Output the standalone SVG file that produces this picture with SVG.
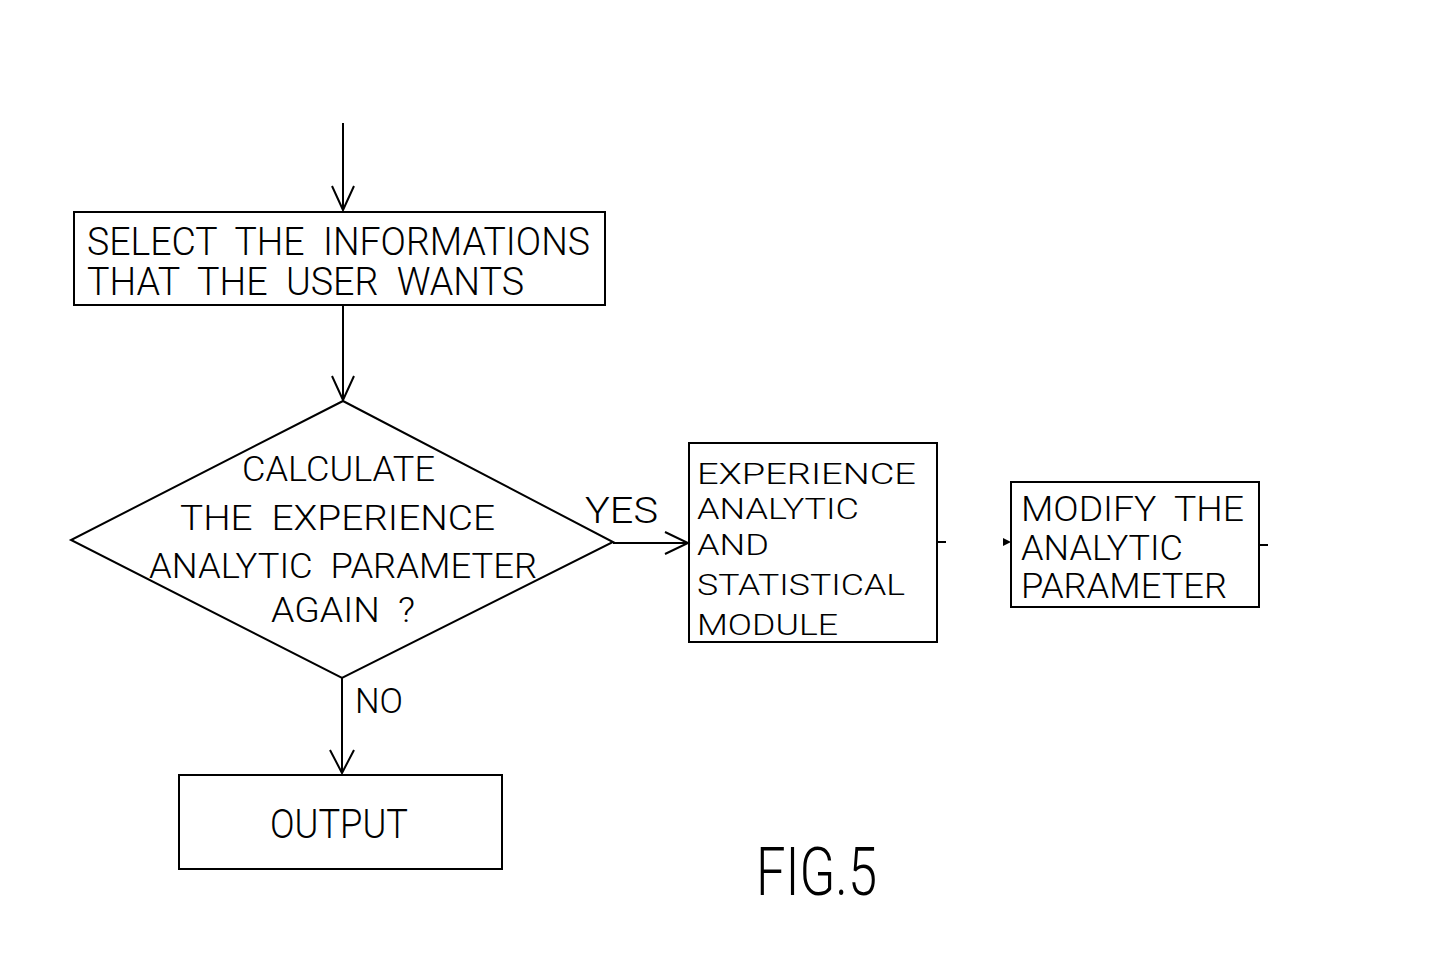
<svg xmlns="http://www.w3.org/2000/svg" width="1440" height="959" viewBox="0 0 1440 959" xml:space="preserve">
<style>
.box{fill:none;stroke:#000;stroke-width:2}
.ln{fill:none;stroke:#000;stroke-width:2}
.ah{fill:none;stroke:#000;stroke-width:2;stroke-linejoin:miter}
text{font-family:Roboto,"Liberation Sans",Arial,sans-serif;font-weight:300;fill:#000;white-space:pre}
.t38{font-size:38px}
.t35{font-size:35px}
.t30{font-size:30px}
.t36{font-size:36px}
.t40{font-size:40px}
.fig{font-size:66px}
</style>
<rect width="1440" height="959" fill="#fff"/>
<g id="connectors">
<line class="ln" x1="343" y1="123" x2="343" y2="210"/>
<path class="ah" d="M332,186 L343,210 L354,186"/>
<line class="ln" x1="343" y1="306" x2="343" y2="400"/>
<path class="ah" d="M332,376 L343,400 L354,376"/>
<line class="ln" x1="613" y1="543" x2="688" y2="543"/>
<path class="ah" d="M665,532 L688,543 L665,554"/>
<line class="ln" x1="342" y1="678" x2="342" y2="773"/>
<path class="ah" d="M330,750 L342,773 L354,750"/>
<line class="ln" x1="937" y1="542" x2="946" y2="542"/>
<path d="M1003,538 L1011,542 L1003,546 Z" fill="#000"/>
<line class="ln" x1="1260" y1="545" x2="1268" y2="545"/>
<text x="585" y="523" class="t36" textLength="73" lengthAdjust="spacingAndGlyphs">YES</text>
<text x="355" y="713" class="t35" textLength="48" lengthAdjust="spacingAndGlyphs">NO</text>
</g>
<g id="select">
<rect class="box" x="74" y="212" width="531" height="93"/>
<text x="87" y="255" class="t38" textLength="503" lengthAdjust="spacingAndGlyphs">SELECT  THE  INFORMATIONS</text>
<text x="87" y="295" class="t38" textLength="437" lengthAdjust="spacingAndGlyphs">THAT  THE  USER  WANTS</text>
</g>
<g id="decision">
<polygon class="box" points="343,401 613,542 342,678 71,540"/>
<text x="242" y="481" class="t35" textLength="193" lengthAdjust="spacingAndGlyphs">CALCULATE</text>
<text x="180" y="530" class="t35" textLength="315" lengthAdjust="spacingAndGlyphs">THE  EXPERIENCE</text>
<text x="149" y="578" class="t35" textLength="388" lengthAdjust="spacingAndGlyphs">ANALYTIC  PARAMETER</text>
<text x="271" y="622" class="t35" textLength="144" lengthAdjust="spacingAndGlyphs">AGAIN  ?</text>
</g>
<g id="module">
<rect class="box" x="689" y="443" width="248" height="199"/>
<text x="697" y="484" class="t30" textLength="219" lengthAdjust="spacingAndGlyphs">EXPERIENCE</text>
<text x="697" y="519" class="t30" textLength="162" lengthAdjust="spacingAndGlyphs">ANALYTIC</text>
<text x="697" y="555" class="t30" textLength="72" lengthAdjust="spacingAndGlyphs">AND</text>
<text x="697" y="595" class="t30" textLength="208" lengthAdjust="spacingAndGlyphs">STATISTICAL</text>
<text x="697" y="635" class="t30" textLength="141" lengthAdjust="spacingAndGlyphs">MODULE</text>
</g>
<g id="modify">
<rect class="box" x="1011" y="482" width="248" height="125"/>
<text x="1021" y="521" class="t35" textLength="223" lengthAdjust="spacingAndGlyphs">MODIFY  THE</text>
<text x="1021" y="560" class="t35" textLength="162" lengthAdjust="spacingAndGlyphs">ANALYTIC</text>
<text x="1021" y="598" class="t35" textLength="206" lengthAdjust="spacingAndGlyphs">PARAMETER</text>
</g>
<g id="output">
<rect class="box" x="179" y="775" width="323" height="94"/>
<text x="270" y="838" class="t40" textLength="138" lengthAdjust="spacingAndGlyphs">OUTPUT</text>
</g>
<g id="caption">
<text x="756" y="895" class="fig" textLength="121" lengthAdjust="spacingAndGlyphs">FIG.5</text>
</g>
</svg>
